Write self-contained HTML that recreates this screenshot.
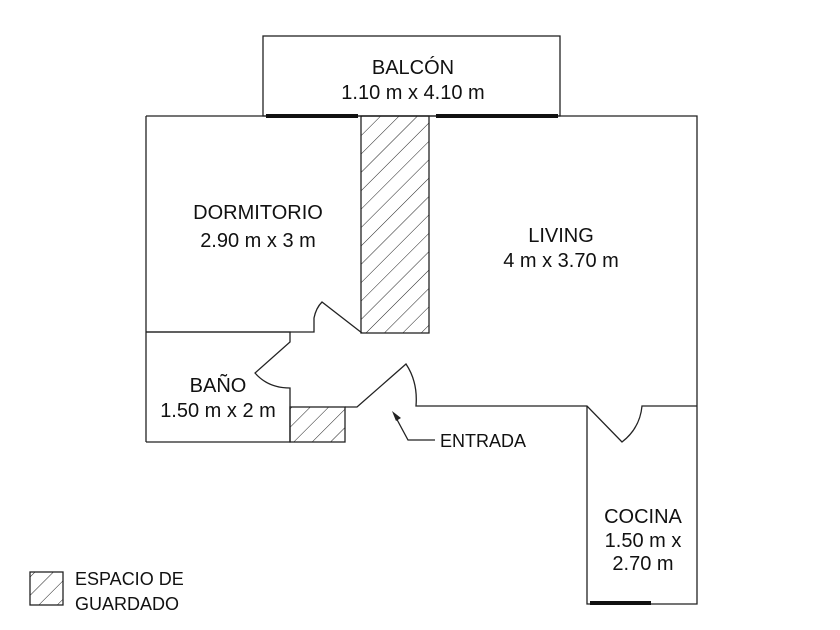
<!DOCTYPE html><html><head><style>body{margin:0;background:#fff}svg{display:block}text{font-family:"Liberation Sans",sans-serif;font-size:20px;fill:#111}</style></head><body>
<svg width="840" height="630" viewBox="0 0 840 630">
<defs><pattern id="h" patternUnits="userSpaceOnUse" width="13" height="13" patternTransform="rotate(45)"><line x1="0" y1="0" x2="0" y2="13" stroke="#222" stroke-width="1"/></pattern></defs>
<g fill="none" stroke="#222" stroke-width="1.3">
<rect x="263" y="36" width="297" height="80"/>
<polyline points="146,116 697,116 697,604 587,604 587,406"/>
<line x1="146" y1="116" x2="146" y2="442"/>
<rect x="361" y="116" width="68" height="217" fill="url(#h)"/>
<path d="M146,332 H314 V318 Q316,308 322,302 L362,333"/>
<path d="M146,332 H290 V342 L255,373 Q268,388 290,388 V442 H146"/>
<rect x="290" y="407" width="55" height="35" fill="url(#h)"/>
<path d="M345,407 H357 L406,364 Q418,382 416,406 H587 L622,442 Q640,428 642,406 H697"/>
<polyline points="435,440 408,440 394,414"/>
<rect x="30" y="572" width="33" height="33" fill="url(#h)"/>
</g>
<polygon points="392,411 401,418 396,421" fill="#222"/>
<g stroke="#111" stroke-width="4"><line x1="266" y1="116" x2="358" y2="116"/><line x1="436" y1="116" x2="558" y2="116"/><line x1="590" y1="603" x2="651" y2="603"/></g>
<g text-anchor="middle">
<text x="413" y="74">BALCÓN</text><text x="413" y="99">1.10 m x 4.10 m</text>
<text x="258" y="219">DORMITORIO</text><text x="258" y="247">2.90 m x 3 m</text>
<text x="561" y="242">LIVING</text><text x="561" y="267">4 m x 3.70 m</text>
<text x="218" y="392">BAÑO</text><text x="218" y="417">1.50 m x 2 m</text>
<text x="643" y="523">COCINA</text><text x="643" y="547">1.50 m x</text><text x="643" y="570">2.70 m</text>
</g>
<text x="440" y="447" style="font-size:18px">ENTRADA</text>
<text x="75" y="585" style="font-size:18px">ESPACIO DE</text>
<text x="75" y="610" style="font-size:18px">GUARDADO</text>
</svg></body></html>
